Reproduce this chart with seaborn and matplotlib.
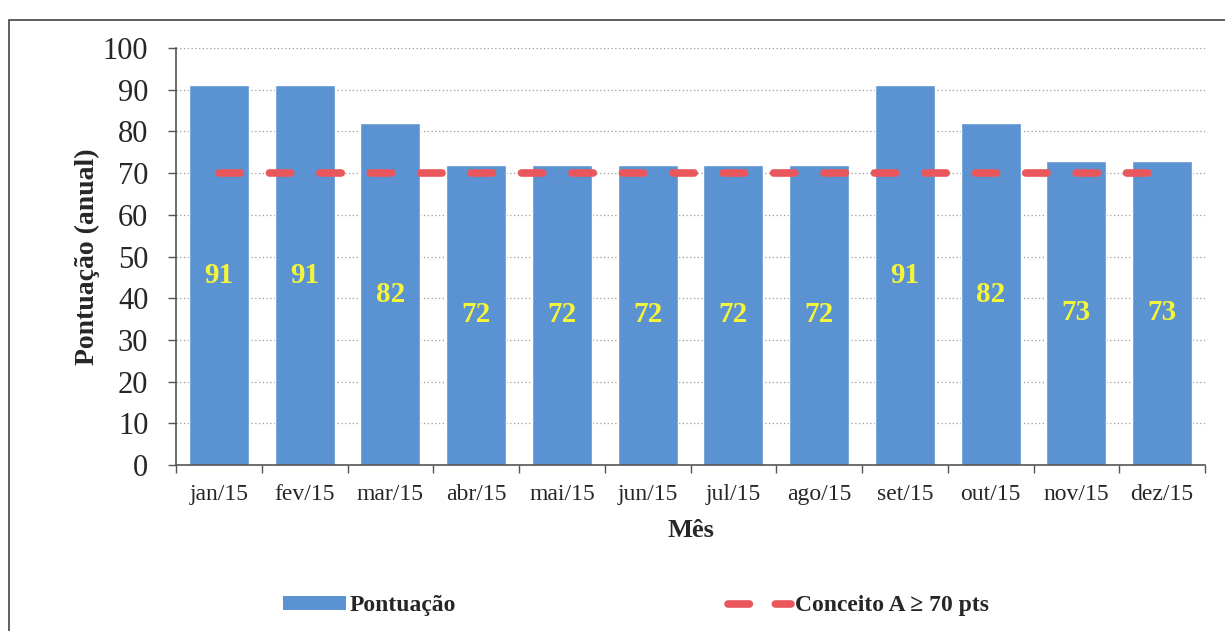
import matplotlib
matplotlib.use("Agg")
import matplotlib.pyplot as plt
import seaborn as sns
import pandas as pd
from matplotlib.patches import Rectangle
from matplotlib.lines import Line2D
from matplotlib.patches import Patch

meses = ["jan/15", "fev/15", "mar/15", "abr/15", "mai/15", "jun/15",
         "jul/15", "ago/15", "set/15", "out/15", "nov/15", "dez/15"]
pontuacao = [91, 91, 82, 72, 72, 72, 72, 72, 91, 82, 73, 73]
conceito = [70] * 12
yticks = [0, 10, 20, 30, 40, 50, 60, 70, 80, 90, 100]

sns.set_theme(style="white")
plt.rcParams['font.family'] = ['Liberation Serif', 'DejaVu Serif']

df = pd.DataFrame({"Mês": meses, "Pontuação": pontuacao, "Conceito": conceito})

fig = plt.figure(figsize=(12.25, 6.31), dpi=100)
ax = fig.add_axes([0.1437, 0.263, 0.84, 0.661])

bar_color = "#5b92d1"
line_color = "#e9575c"
dash_pat = (3.1, 4.2)

sns.barplot(data=df, x="Mês", y="Pontuação", color=bar_color, width=0.7,
            saturation=1, ax=ax, zorder=2)
ax.plot(range(len(meses)), df["Conceito"], color=line_color, lw=5.5,
        dashes=(2.8, 3.8), solid_capstyle="round", dash_capstyle="round", zorder=3)

for i, v in enumerate(pontuacao):
    ax.text(i, v / 2, str(v), ha="center", va="center", color="#f5f53a",
            fontsize=21, fontweight="bold", zorder=4)

ax.set_ylim(0, 100)
ax.set_xlim(-0.5, len(meses) - 0.5)
ax.set_yticks(yticks)
ax.yaxis.grid(True, linestyle=(0, (1, 2)), color="#9a9a9a", lw=0.9, zorder=0)
ax.set_axisbelow(True)
ax.tick_params(axis="y", labelsize=22, left=True, length=6, width=1, color="#555555", pad=14)
ax.set_xticks(range(len(meses)))
ax.set_xticklabels(meses, fontsize=17)
ax.set_xticks([i + 0.5 for i in range(-1, len(meses))], minor=True)
ax.tick_params(axis="x", which="major", length=0, pad=14)
ax.tick_params(axis="x", which="minor", bottom=True, length=6, width=1, color="#555555")

for s in ["top", "right"]:
    ax.spines[s].set_visible(False)
for s in ["left", "bottom"]:
    ax.spines[s].set_color("#555555")
    ax.spines[s].set_linewidth(1.2)

ax.set_ylabel("Pontuação (anual)", fontsize=20, fontweight="bold", labelpad=2)
ax.set_xlabel("Mês", fontsize=19, fontweight="bold", labelpad=10)

handles = [Patch(facecolor=bar_color, edgecolor="none"),
           Line2D([0], [0], color=line_color, lw=5.5, dashes=(2.8, 3.4),
                  dash_capstyle="round", solid_capstyle="round")]
fig.legend(handles, ["Pontuação", "Conceito A ≥ 70 pts"], loc="center",
           bbox_to_anchor=(0.519, 0.04), ncol=2, frameon=False,
           prop={"size": 17, "weight": "bold"}, handlelength=2.7,
           handleheight=0.55, handletextpad=0.15, columnspacing=11.5)

fig.patches.append(Rectangle((0.007, -0.05), 1.2, 1.018, transform=fig.transFigure,
                             fill=False, edgecolor="#444444", lw=1.2))

fig.savefig("out.png", dpi=100)
